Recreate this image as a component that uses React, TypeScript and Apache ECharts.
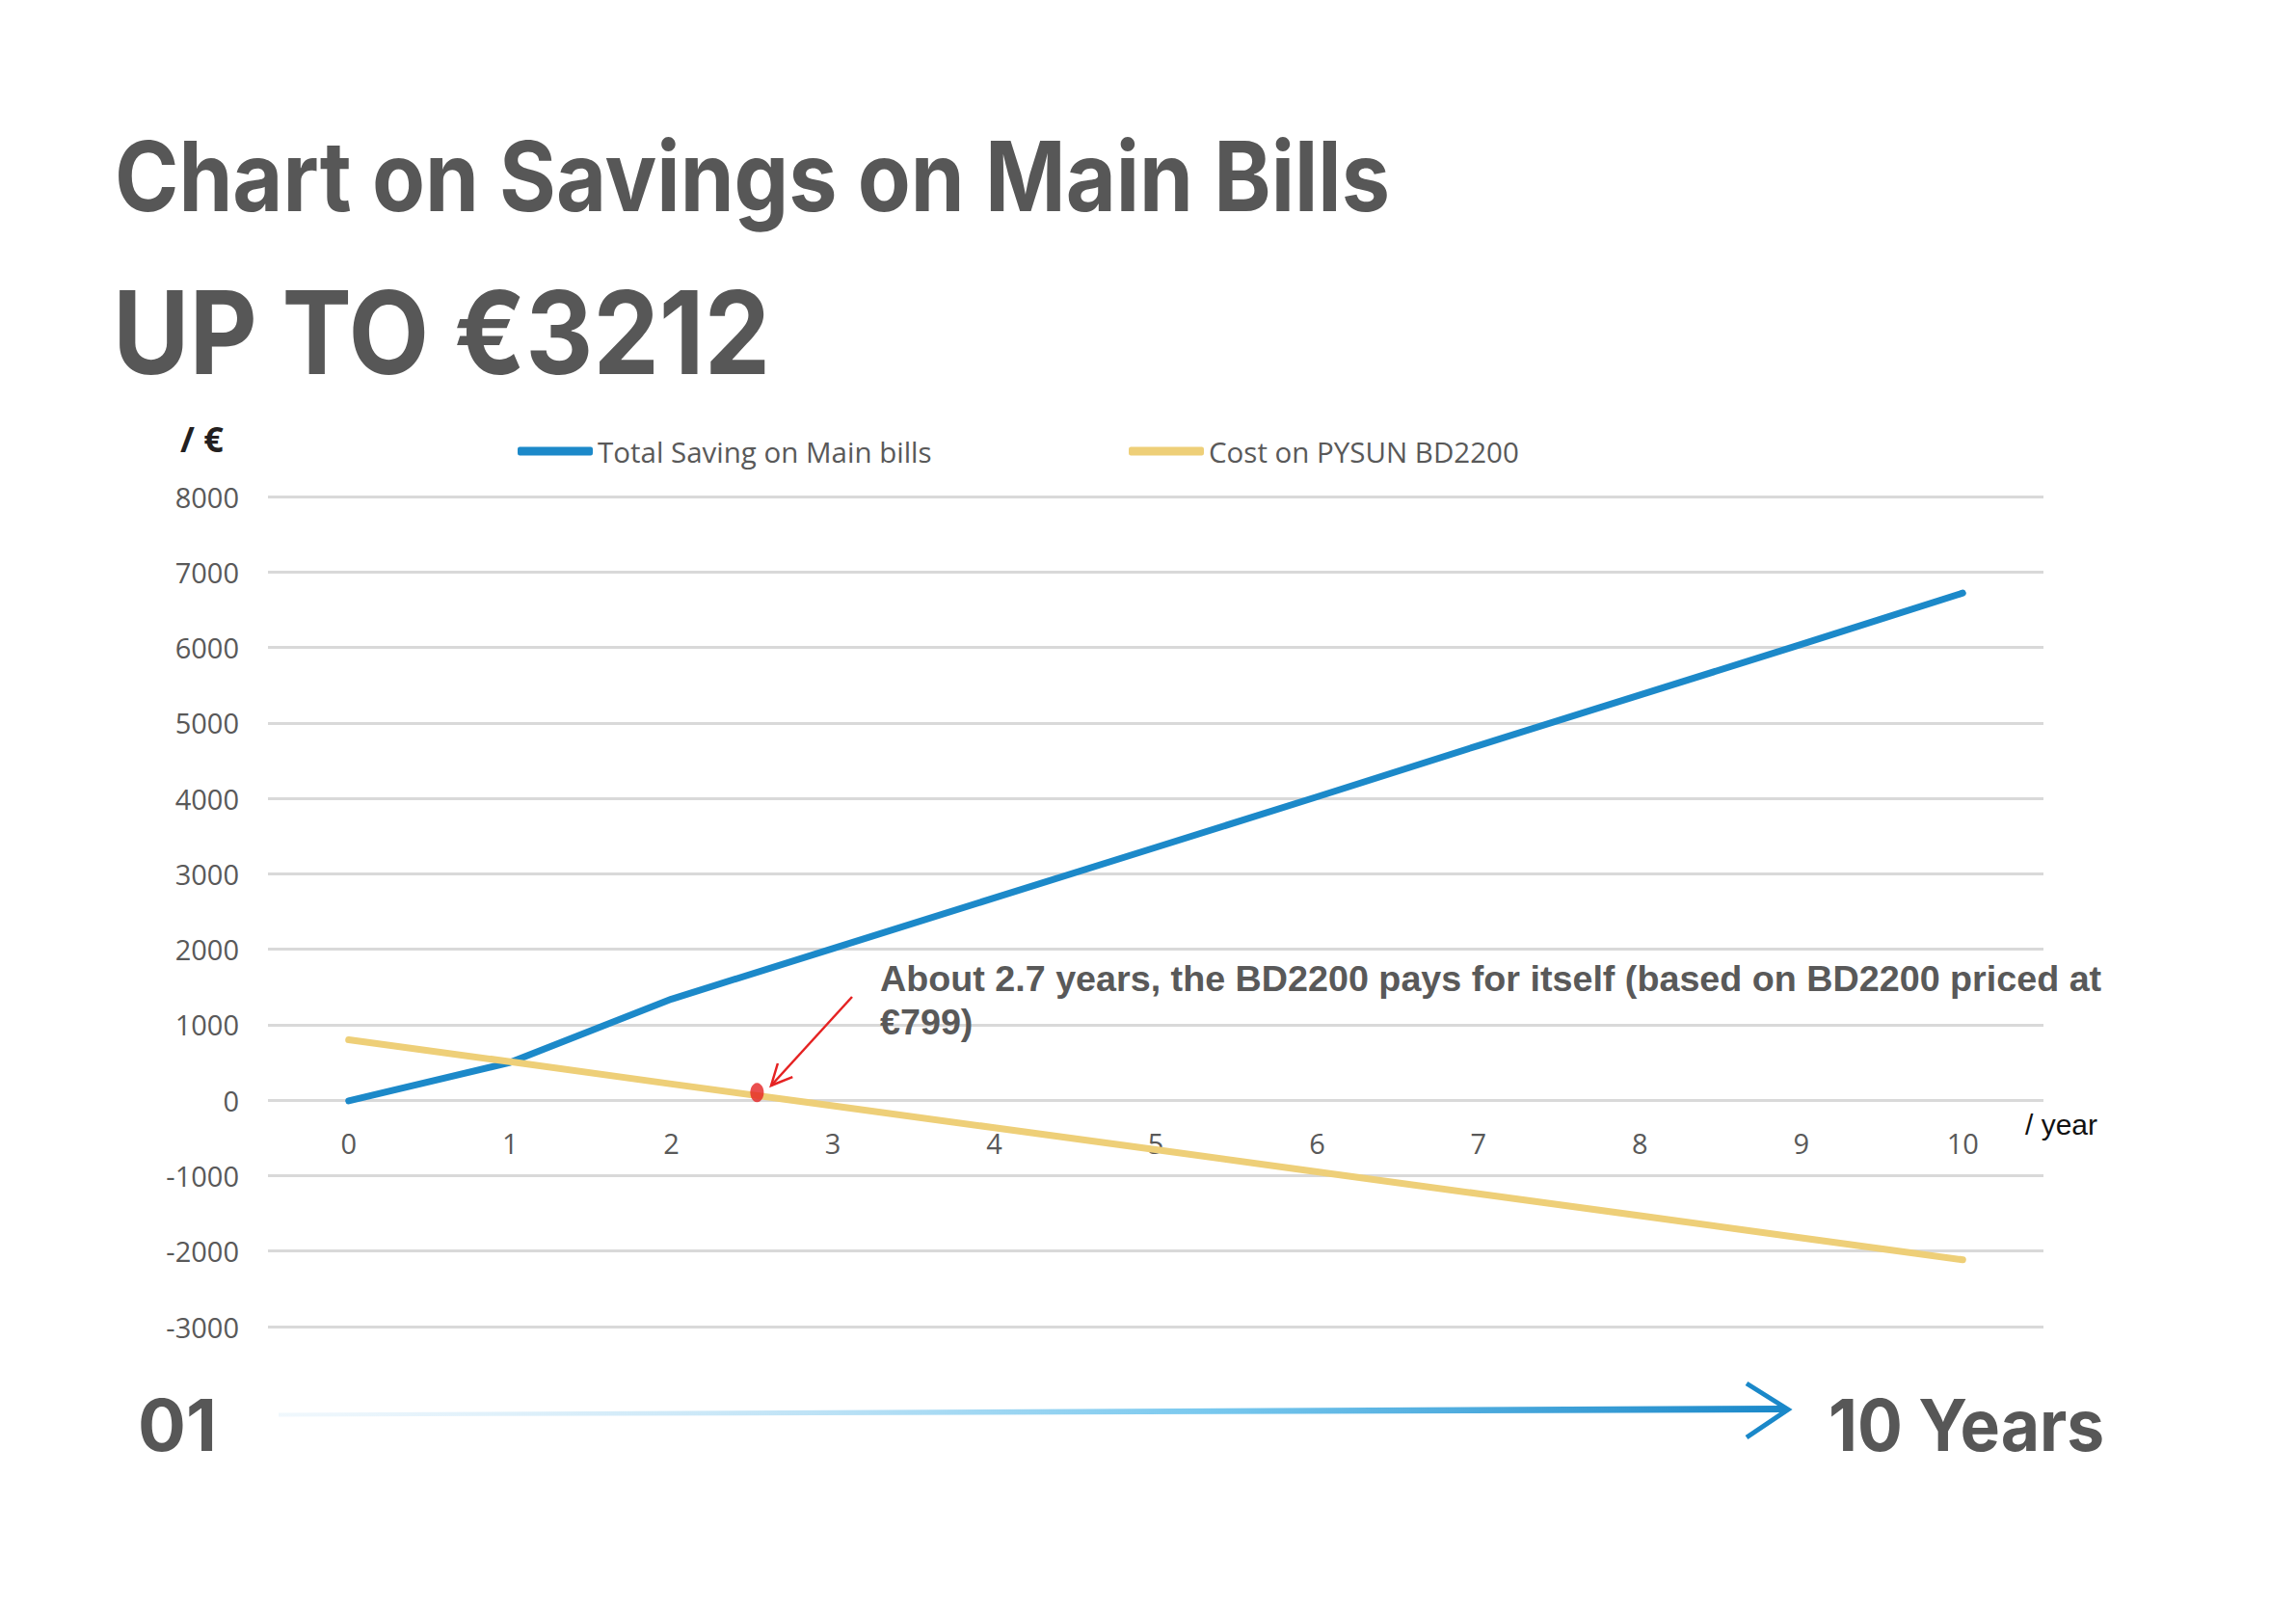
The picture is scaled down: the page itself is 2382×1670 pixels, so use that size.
import React, { useEffect, useRef } from 'react';
import * as echarts from 'echarts';

const years = ['0', '1', '2', '3', '4', '5', '6', '7', '8', '9', '10'];
const totalSaving = [-10, 500, 1340, 2010, 2680, 3350, 4020, 4700, 5370, 6040, 6720];
const costBD2200 = [800, 510, 215, -75, -365, -655, -950, -1240, -1530, -1825, -2115];
const paybackPoint = [[2.53, 100]];
const yMin = -3000;
const yMax = 8000;
const yStep = 1000;

const seriesNames = ['Total Saving on Main bills', 'Cost on PYSUN BD2200'];
const titleText = 'Chart on Savings on Main Bills';
const headline = 'UP TO €3212';
const noteText = 'About 2.7 years, the BD2200 pays for itself (based on BD2200 priced at\n€799)';

const BLUE = '#1c89c9';
const YELLOW = '#eecf78';
const GREY = '#575757';

export default function App() {
  const ref = useRef<HTMLDivElement>(null);
  useEffect(() => {
    if (!ref.current) return;
    const chart = echarts.init(ref.current, null, { renderer: 'svg' });
    const legendText = { fontFamily: 'Open Sans', fontSize: 29.5, color: '#595959' };

    const gridTop = 515;
    const gridBottom = 294;
    const plotH = 1670 - gridTop - gridBottom;
    const zeroOffset = -plotH * (0 - yMin) / (yMax - yMin);

    // arrow annotation geometry
    const sx = 884, sy = 1034, tx = 800, ty = 1126;
    const dx = tx - sx, dy = ty - sy;
    const len = Math.sqrt(dx * dx + dy * dy);
    const ux = dx / len, uy = dy / len;
    const wing = 24, ang = Math.PI / 7;
    const w1 = [tx - wing * (ux * Math.cos(ang) - uy * Math.sin(ang)), ty - wing * (uy * Math.cos(ang) + ux * Math.sin(ang))];
    const w2 = [tx - wing * (ux * Math.cos(-ang) - uy * Math.sin(-ang)), ty - wing * (uy * Math.cos(-ang) + ux * Math.sin(-ang))];

    chart.setOption({
      animation: false,
      backgroundColor: '#ffffff',
      grid: { left: 278, right: 262, top: gridTop, bottom: gridBottom, containLabel: false },
      legend: [
        {
          left: 532, top: 448, data: [seriesNames[0]], icon: 'roundRect',
          itemWidth: 78, itemHeight: 9, itemGap: 0, textStyle: legendText, selectedMode: false,
        },
        {
          left: 1166, top: 448, data: [seriesNames[1]], icon: 'roundRect',
          itemWidth: 78, itemHeight: 9, itemGap: 0, textStyle: legendText, selectedMode: false,
        },
      ],
      xAxis: [
        {
          type: 'category', data: years, boundaryGap: true, position: 'bottom', offset: zeroOffset,
          axisLine: { show: false, onZero: false },
          axisTick: { show: false },
          axisLabel: { fontFamily: 'Open Sans', fontSize: 29, color: '#595959', margin: 30 },
          splitLine: { show: false },
        },
        { type: 'value', min: -0.5, max: 10.5, show: false, axisLine: { onZero: false } },
      ],
      yAxis: {
        type: 'value', min: yMin, max: yMax, interval: yStep,
        axisLine: { show: false, onZero: false }, axisTick: { show: false },
        axisLabel: { fontFamily: 'Open Sans', fontSize: 29, color: '#595959', margin: 30, formatter: (v: number) => String(v) },
        splitLine: { lineStyle: { color: '#d9d9d9', width: 3 } },
      },
      series: [
        {
          name: seriesNames[0], type: 'line', data: totalSaving, showSymbol: false, symbol: 'none',
          color: BLUE, lineStyle: { color: BLUE, width: 7, cap: 'round', join: 'round' }, z: 2,
        },
        {
          name: seriesNames[1], type: 'line', data: costBD2200, showSymbol: false, symbol: 'none',
          color: YELLOW, lineStyle: { color: YELLOW, width: 7, cap: 'round', join: 'round' }, z: 3,
        },
        {
          name: 'payback', type: 'scatter', xAxisIndex: 1, data: paybackPoint,
          symbol: 'circle', symbolSize: [14, 20], itemStyle: { color: '#e52222' }, z: 5,
        },
      ],
      graphic: [
        {
          type: 'text', x: 119, y: 183, scaleX: 0.898,
          style: { text: titleText, fontFamily: 'Inter', fontWeight: 700, fontSize: 100, fill: GREY, verticalAlign: 'middle' },
        },
        {
          type: 'text', x: 117, y: 344, scaleX: 0.905,
          style: { text: headline, fontFamily: 'Inter', fontWeight: 700, fontSize: 120, fill: GREY, verticalAlign: 'middle' },
        },
        {
          type: 'text', x: 187, y: 455,
          style: { text: '/ €', fontFamily: 'Open Sans', fontWeight: 700, fontSize: 36, fill: '#231f20', verticalAlign: 'middle' },
        },
        {
          type: 'text', x: 2101, y: 1166,
          style: { text: '/ year', fontFamily: 'Liberation Sans', fontSize: 30, fill: '#111111', verticalAlign: 'middle' },
        },
        {
          type: 'text', x: 913, y: 992, z: 10,
          style: { text: noteText, fontFamily: 'Liberation Sans', fontWeight: 700, fontSize: 37.7, lineHeight: 45, fill: '#595959', verticalAlign: 'top' },
        },
        {
          type: 'line', z: 10,
          shape: { x1: sx, y1: sy, x2: tx, y2: ty },
          style: { stroke: '#e52222', lineWidth: 2.5 },
        },
        {
          type: 'polyline', z: 10,
          shape: { points: [w1, [tx, ty], w2] },
          style: { stroke: '#e52222', lineWidth: 2.5, fill: 'none' },
        },
        {
          type: 'text', x: 143, y: 1478,
          style: { text: '01', fontFamily: 'Inter', fontWeight: 700, fontSize: 74, fill: GREY, verticalAlign: 'middle' },
        },
        {
          type: 'text', x: 1897, y: 1478, scaleX: 0.94,
          style: { text: '10 Years', fontFamily: 'Inter', fontWeight: 700, fontSize: 74, fill: GREY, verticalAlign: 'middle' },
        },
        {
          type: 'polygon',
          shape: { points: [[289, 1465.5], [1852, 1458], [1852, 1465], [289, 1469.5]] },
          style: {
            fill: new echarts.graphic.LinearGradient(289, 0, 1852, 0, [
              { offset: 0, color: 'rgba(225,240,250,0.5)' },
              { offset: 0.35, color: '#bfe3f6' },
              { offset: 0.62, color: '#78c8ee' },
              { offset: 1, color: '#1a88c9' },
            ], true),
          },
        },
        {
          type: 'polyline',
          shape: { points: [[1812, 1435], [1855, 1462], [1812, 1491]] },
          style: { stroke: '#1a88c9', lineWidth: 5, fill: 'none', lineJoin: 'miter' },
        },
      ],
    });
    return () => chart.dispose();
  }, []);
  return <div ref={ref} style={{ position: 'fixed', left: 0, top: 0, width: 2382, height: 1670, background: '#fff' }} />;
}
